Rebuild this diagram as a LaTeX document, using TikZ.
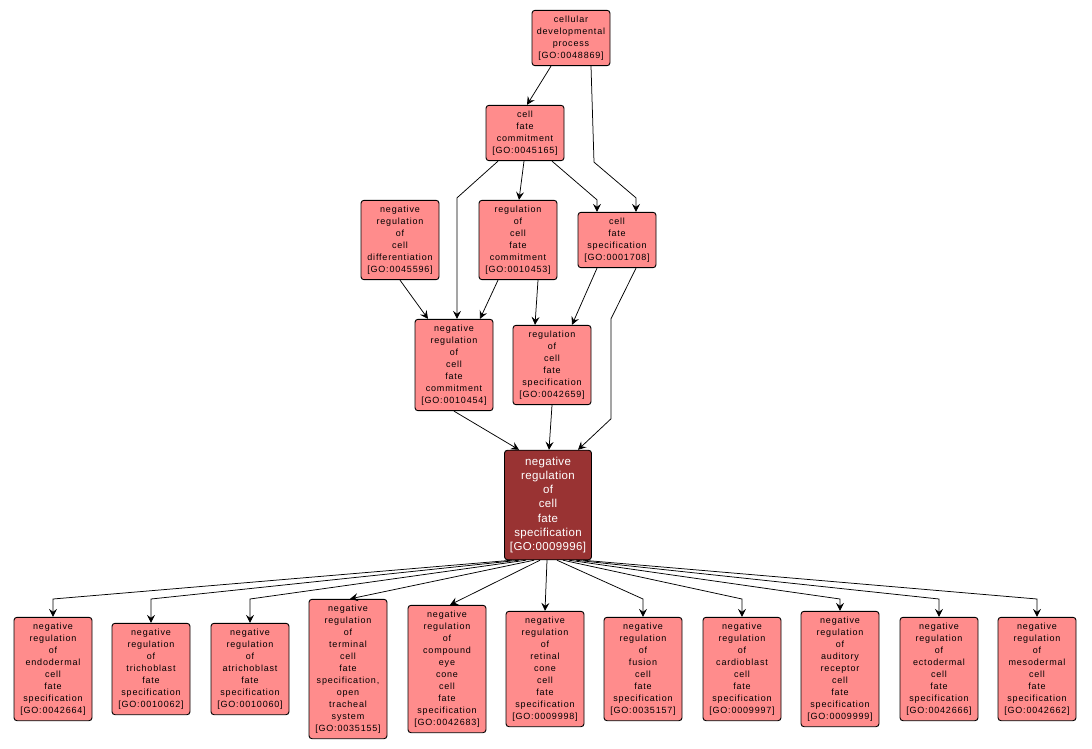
\documentclass[tikz,border=0pt]{standalone}
\usepackage{fontspec}
\setmainfont{Liberation Sans}
\newfontfamily\termfont[LetterSpace=9]{Liberation Sans}
\newfontfamily\rootfont[LetterSpace=3]{Liberation Sans}
\usetikzlibrary{arrows.meta}
\definecolor{termfill}{HTML}{FF8C8C}
\definecolor{rootfill}{HTML}{993333}
\tikzset{
  term/.style={draw=black, fill=termfill, rounded corners=3pt, align=center,
    minimum width=78pt, inner xsep=2pt, inner ysep=5.5pt, line width=0.9pt,
    font=\termfont\fontsize{9}{12}\selectfont},
  rootterm/.style={term, fill=rootfill, text=white, minimum width=87pt,
    inner ysep=6.5pt, font=\rootfont\fontsize{11.5}{14.3}\selectfont},
  isa/.style={-{Stealth[length=8pt,width=8pt,inset=3pt]}, line width=0.75pt},
}
\begin{document}
\begin{tikzpicture}[x=1pt,y=-1pt]
    \fill[white] (0,0) rectangle (1092,749);
    \useasboundingbox (0,0) rectangle (1092,749);
    % upper terms
    \node[term] (cdp) at (571,38) {cellular\\developmental\\process\\{[GO:0048869]}};
    \node[term] (cfc) at (525,133) {cell\\fate\\commitment\\{[GO:0045165]}};
    \node[term] (nrcd) at (400,240) {negative\\regulation\\of\\cell\\differentiation\\{[GO:0045596]}};
    \node[term] (rcfc) at (518,240) {regulation\\of\\cell\\fate\\commitment\\{[GO:0010453]}};
    \node[term] (cfs) at (617,240) {cell\\fate\\specification\\{[GO:0001708]}};
    \node[term] (nrcfc) at (454,365) {negative\\regulation\\of\\cell\\fate\\commitment\\{[GO:0010454]}};
    \node[term] (rcfs) at (552,365) {regulation\\of\\cell\\fate\\specification\\{[GO:0042659]}};
    \node[rootterm] (root) at (548,505) {negative\\regulation\\of\\cell\\fate\\specification\\{[GO:0009996]}};
    % lower terms
    \node[term] (endo) at (53,669) {negative\\regulation\\of\\endodermal\\cell\\fate\\specification\\{[GO:0042664]}};
    \node[term] (tricho) at (151,669) {negative\\regulation\\of\\trichoblast\\fate\\specification\\{[GO:0010062]}};
    \node[term] (atricho) at (250,669) {negative\\regulation\\of\\atrichoblast\\fate\\specification\\{[GO:0010060]}};
    \node[term] (trach) at (348,669) {negative\\regulation\\of\\terminal\\cell\\fate\\specification,\\open\\tracheal\\system\\{[GO:0035155]}};
    \node[term] (eye) at (447,669) {negative\\regulation\\of\\compound\\eye\\cone\\cell\\fate\\specification\\{[GO:0042683]}};
    \node[term] (retina) at (545,669) {negative\\regulation\\of\\retinal\\cone\\cell\\fate\\specification\\{[GO:0009998]}};
    \node[term] (fusion) at (643,669) {negative\\regulation\\of\\fusion\\cell\\fate\\specification\\{[GO:0035157]}};
    \node[term] (cardio) at (742,669) {negative\\regulation\\of\\cardioblast\\cell\\fate\\specification\\{[GO:0009997]}};
    \node[term] (audit) at (840,669) {negative\\regulation\\of\\auditory\\receptor\\cell\\fate\\specification\\{[GO:0009999]}};
    \node[term] (ecto) at (939,669) {negative\\regulation\\of\\ectodermal\\cell\\fate\\specification\\{[GO:0042666]}};
    \node[term] (meso) at (1037,669) {negative\\regulation\\of\\mesodermal\\cell\\fate\\specification\\{[GO:0042662]}};
    \coordinate (bendline) at (0,599);
    % is_a edges, upper part
    \draw[isa] ([xshift=-20pt]cdp.south) -- ([xshift=2pt]cfc.north);
    \draw[isa] ([xshift=20pt]cdp.south) -- ([xshift=23pt,yshift=-96pt]cdp.south)
        -- ([xshift=19pt,yshift=14pt]cfs.north) -- ([xshift=19pt]cfs.north);
    \draw[isa] ([xshift=27pt]cfc.south) -- ([xshift=-20pt,yshift=12pt]cfs.north) -- ([xshift=-20pt]cfs.north);
    \draw[isa] ([xshift=-1pt]cfc.south) -- ([xshift=1pt]rcfc.north);
    \draw[isa] ([xshift=-27pt]cfc.south) -- ([xshift=3pt,yshift=121pt]nrcfc.north) -- ([xshift=3pt]nrcfc.north);
    \draw[isa] (nrcd.south) -- ([xshift=-26pt]nrcfc.north);
    \draw[isa] ([xshift=-20pt]rcfc.south) -- ([xshift=26pt]nrcfc.north);
    \draw[isa] ([xshift=20pt]rcfc.south) -- ([xshift=-17pt]rcfs.north);
    \draw[isa] ([xshift=-20pt]cfs.south) -- ([xshift=20pt]rcfs.north);
    \draw[isa] ([xshift=19pt]cfs.south) -- ([xshift=63pt,yshift=131pt]root.north)
        -- ([xshift=63pt,yshift=31pt]root.north) -- ([xshift=30pt]root.north);
    \draw[isa] (nrcfc.south) -- ([xshift=-29pt]root.north);
    \draw[isa] (rcfs.south) -- ([xshift=1pt]root.north);
    % is_a edges, lower part
    \foreach \t/\s in {endo/-36, tricho/-29, atricho/-22, fusion/9, cardio/15, audit/21, ecto/28, meso/35}
        \draw[isa] ([xshift=\s pt]root.south) -- (\t.north |- bendline) -- (\t.north);
    \draw[isa] ([xshift=-14pt]root.south) -- ([xshift=2pt]trach.north);
    \draw[isa] ([xshift=-8pt]root.south) -- ([xshift=3pt]eye.north);
    \draw[isa] ([xshift=-1pt]root.south) -- (retina.north);
\end{tikzpicture}
\end{document}
